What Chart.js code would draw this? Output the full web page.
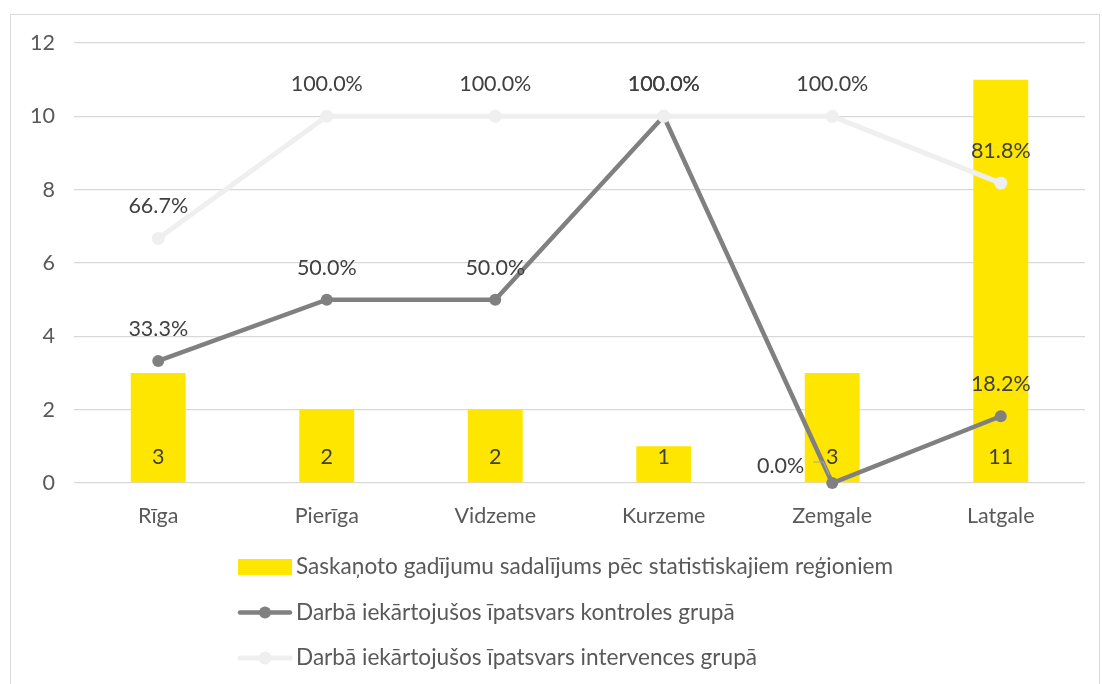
<!DOCTYPE html>
<html>
<head>
<meta charset="utf-8">
<script src="https://cdn.jsdelivr.net/npm/chart.js@4.4.1/dist/chart.umd.min.js"></script>
<style>
  html, body { margin: 0; padding: 0; background: #fff; }
  #wrap { position: relative; width: 1102px; height: 684px; }
  canvas { display: block; }
</style>
</head>
<body>
<div id="wrap"><canvas id="c" width="1102" height="684"></canvas></div>
<script>
// ---- data ----
const categories = ['Rīga', 'Pierīga', 'Vidzeme', 'Kurzeme', 'Zemgale', 'Latgale'];
const caseCounts = [3, 2, 2, 1, 3, 11];
const controlShare = [33.3, 50.0, 50.0, 100.0, 0.0, 18.2];        // %
const interventionShare = [66.7, 100.0, 100.0, 100.0, 100.0, 81.8]; // %
const yTicks = [0, 2, 4, 6, 8, 10, 12];
const seriesNames = [
  'Saskaņoto gadījumu sadalījums pēc statistiskajiem reģioniem',
  'Darbā iekārtojušos īpatsvars kontroles grupā',
  'Darbā iekārtojušos īpatsvars intervences grupā'
];

const FONT = 'Lato, "Open Sans", "DejaVu Sans", sans-serif';
const YELLOW = '#FFE600';
const DARK = '#808080';
const LIGHT = '#EFEFEF';
const LABEL = '#404040';

const labelPlugin = {
  id: 'labels',
  afterDatasetsDraw(chart) {
    const ctx = chart.ctx;
    ctx.save();
    ctx.font = '21.5px ' + FONT;
    ctx.fillStyle = LABEL;
    ctx.textBaseline = 'middle';
    chart.data.datasets.forEach((ds, di) => {
      const meta = chart.getDatasetMeta(di);
      meta.data.forEach((el, i) => {
        const v = ds.data[i];
        if (ds.type === 'bar') {
          ctx.textAlign = 'center';
          ctx.fillText(String(v), el.x, el.base - 25);
        } else {
          const txt = v.toFixed(1) + '%';
          if (ds.labelLeft && ds.labelLeft[i]) {
            ctx.textAlign = 'right';
            ctx.fillText(txt, el.x - 28, el.y - 17);
            ctx.strokeStyle = '#A6A6A6';
            ctx.lineWidth = 1.2;
            ctx.beginPath();
            ctx.moveTo(el.x - 19, el.y - 21);
            ctx.lineTo(el.x - 9, el.y - 21);
            ctx.lineTo(el.x - 3, el.y - 8);
            ctx.stroke();
          } else {
            ctx.textAlign = 'center';
            ctx.fillText(txt, el.x, el.y - 32);
          }
        }
      });
    });
    ctx.restore();
  },
  afterDraw(chart) {
    const ctx = chart.ctx;
    ctx.save();
    // outer border
    ctx.strokeStyle = '#D9D9D9';
    ctx.lineWidth = 1;
    ctx.strokeRect(10.5, 14.5, 1089, 680);
    // legend
    ctx.font = '22.6px ' + FONT;
    ctx.textBaseline = 'middle';
    ctx.textAlign = 'left';
    const x0 = 238, w = 54, y0 = 567, gap = 45.5;
    chart.data.datasets.forEach((ds, i) => {
      const y = y0 + i * gap;
      if (ds.type === 'bar') {
        ctx.fillStyle = ds.backgroundColor;
        ctx.fillRect(x0, y - 8, w, 16);
      } else {
        ctx.strokeStyle = ds.borderColor;
        ctx.lineWidth = ds.borderWidth;
        ctx.lineCap = 'round';
        ctx.beginPath();
        ctx.moveTo(x0 + 2, y);
        ctx.lineTo(x0 + w - 2, y);
        ctx.stroke();
        ctx.fillStyle = ds.pointBackgroundColor;
        ctx.beginPath();
        ctx.arc(x0 + w / 2, y, ds.pointRadius, 0, Math.PI * 2);
        ctx.fill();
      }
      ctx.fillStyle = '#595959';
      ctx.fillText(ds.label, x0 + w + 4, y);
    });
    ctx.restore();
  }
};

new Chart(document.getElementById('c'), {
  data: {
    labels: categories,
    datasets: [
      {
        type: 'bar', label: seriesNames[0], data: caseCounts,
        backgroundColor: YELLOW, yAxisID: 'y',
        barPercentage: 0.326, categoryPercentage: 1, order: 2
      },
      {
        type: 'line', label: seriesNames[1], data: controlShare,
        borderColor: DARK, backgroundColor: DARK, borderWidth: 4.5,
        pointRadius: 6, pointBackgroundColor: DARK, pointBorderWidth: 0,
        yAxisID: 'y1', order: 1, tension: 0, clip: false,
        labelLeft: controlShare.map(v => v === 0)
      },
      {
        type: 'line', label: seriesNames[2], data: interventionShare,
        borderColor: LIGHT, backgroundColor: LIGHT, borderWidth: 5,
        pointRadius: 6.5, pointBackgroundColor: LIGHT, pointBorderWidth: 0,
        yAxisID: 'y1', order: 0, tension: 0, clip: false
      }
    ]
  },
  options: {
    responsive: false,
    animation: false,
    devicePixelRatio: 1,
    layout: { padding: { left: 20, right: 17, top: 43, bottom: 0 } },
    plugins: { legend: { display: false }, tooltip: { enabled: false } },
    scales: {
      x: {
        grid: { display: false, drawTicks: false },
        border: { display: false },
        ticks: { color: '#595959', font: { family: FONT, size: 21.5 }, padding: 20 },
        afterFit(s) { s.height = 201; }
      },
      y: {
        min: 0, max: 12,
        afterBuildTicks(s) { s.ticks = yTicks.map(v => ({ value: v })); },
        grid: { color: '#D9D9D9', lineWidth: 1.3, drawTicks: false },
        border: { display: false },
        ticks: { color: '#595959', font: { family: FONT, size: 21.5 }, padding: 19 },
        afterFit(s) { s.width = 54; }
      },
      y1: {
        display: false, min: 0, max: 120
      }
    }
  },
  plugins: [labelPlugin]
});
</script>
</body>
</html>
